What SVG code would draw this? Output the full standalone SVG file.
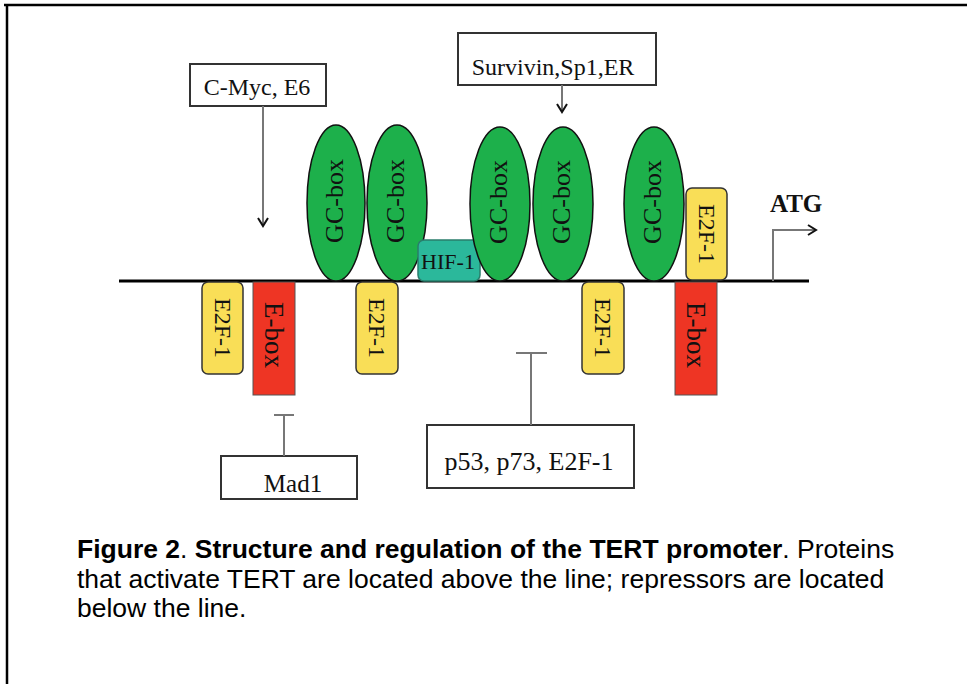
<svg xmlns="http://www.w3.org/2000/svg" width="967" height="684" viewBox="0 0 967 684">
<defs>
<style>
.serif{font-family:"Liberation Serif","Times New Roman",serif;fill:#111}
.gc{fill:#1db04b;stroke:#111;stroke-width:1.5}
.gct{font-size:26px}
.e2t{font-size:24px}
.ebt{font-size:27px}
.yel{fill:#f9de57;stroke:#333;stroke-width:1.5}
.red{fill:#ee3524;stroke:#555;stroke-width:1}
.lbl{fill:#fff;stroke:#333;stroke-width:2}
.conn{stroke:#777;stroke-width:2;fill:none}
.cap{font-family:"Liberation Sans",Arial,sans-serif;font-size:26.5px;fill:#000}
</style>
<marker id="arr" markerWidth="12" markerHeight="12" refX="10" refY="6" orient="auto" markerUnits="userSpaceOnUse">
<path d="M2,1 L10,6 L2,11" fill="none" stroke="#111" stroke-width="2"/>
</marker>
</defs>
<rect width="967" height="684" fill="#fff"/>
<path d="M4,5 H967 M7,5 V684" stroke="#000" stroke-width="2.5" fill="none"/>

<line x1="119" y1="281" x2="809" y2="281" stroke="#000" stroke-width="3"/>

<g id="gc1"><ellipse class="gc" cx="336" cy="203" rx="29" ry="78"/><text class="serif gct" text-anchor="middle" transform="translate(343,201) rotate(-90)">GC-box</text></g>
<g id="gc2"><ellipse class="gc" cx="397" cy="203" rx="30" ry="78"/><text class="serif gct" text-anchor="middle" transform="translate(404,201) rotate(-90)">GC-box</text></g>
<g id="hif1"><rect x="418" y="240" width="62" height="41" rx="6" fill="#2bb89b" stroke="#2a7d6c" stroke-width="1.5"/><text class="serif" font-size="22" text-anchor="middle" x="448" y="269">HIF-1</text></g>
<g id="gc3"><ellipse class="gc" cx="500" cy="204" rx="30" ry="77"/><text class="serif gct" text-anchor="middle" transform="translate(507,202) rotate(-90)">GC-box</text></g>
<g id="gc4"><ellipse class="gc" cx="563" cy="204" rx="30" ry="77"/><text class="serif gct" text-anchor="middle" transform="translate(570,202) rotate(-90)">GC-box</text></g>
<g id="gc5"><ellipse class="gc" cx="654" cy="204" rx="30" ry="77"/><text class="serif gct" text-anchor="middle" transform="translate(661,202) rotate(-90)">GC-box</text></g>
<g id="e2f1-top"><rect class="yel" x="686" y="188" width="41" height="92" rx="6"/><text class="serif e2t" text-anchor="middle" transform="translate(699,234) rotate(90)">E2F-1</text></g>

<g id="e2f1-a"><rect class="yel" x="202" y="282" width="41" height="92" rx="6"/><text class="serif e2t" text-anchor="middle" transform="translate(215,328) rotate(90)">E2F-1</text></g>
<g id="ebox-a"><rect class="red" x="253" y="282" width="42" height="113"/><text class="serif ebt" text-anchor="middle" transform="translate(265,335) rotate(90)">E-box</text></g>
<g id="e2f1-b"><rect class="yel" x="356" y="282" width="42" height="92" rx="6"/><text class="serif e2t" text-anchor="middle" transform="translate(369,328) rotate(90)">E2F-1</text></g>
<g id="e2f1-c"><rect class="yel" x="582" y="282" width="42" height="92" rx="6"/><text class="serif e2t" text-anchor="middle" transform="translate(595,328) rotate(90)">E2F-1</text></g>
<g id="ebox-b"><rect class="red" x="675" y="282" width="42" height="113"/><text class="serif ebt" text-anchor="middle" transform="translate(687,335) rotate(90)">E-box</text></g>

<g id="cmyc"><rect class="lbl" x="190" y="64" width="136" height="42"/><text class="serif" font-size="24" text-anchor="middle" x="257" y="95">C-Myc, E6</text></g>
<g id="survivin"><rect class="lbl" x="458" y="33" width="198" height="52"/><text class="serif" font-size="24" text-anchor="middle" x="553" y="75">Survivin,Sp1,ER</text></g>
<g id="mad1"><rect class="lbl" x="221" y="456" width="136" height="43"/><text class="serif" font-size="25" text-anchor="middle" x="293" y="492">Mad1</text></g>
<g id="p53"><rect class="lbl" x="427" y="425" width="207" height="63"/><text class="serif" font-size="26" text-anchor="middle" x="529" y="470">p53, p73, E2F-1</text></g>
<g id="atg"><text class="serif" font-size="25" font-weight="bold" x="770" y="212">ATG</text></g>

<g id="connectors">
<line class="conn" x1="263" y1="106" x2="263" y2="226" marker-end="url(#arr)"/>
<line class="conn" x1="562" y1="85" x2="562" y2="112" marker-end="url(#arr)"/>
<path class="conn" d="M284,456 V415 M274,415 H294"/>
<path class="conn" d="M531,425 V353 M516,353 H547"/>
<path class="conn" d="M773,281 V230 H816" marker-end="url(#arr)"/>
</g>

<g id="caption">
<text class="cap" x="77" y="558"><tspan font-weight="bold">Figure 2</tspan>. <tspan font-weight="bold">Structure and regulation of the TERT promoter</tspan>. Proteins</text>
<text class="cap" x="77" y="588">that activate TERT are located above the line; repressors are located</text>
<text class="cap" x="77" y="617">below the line.</text>
</g>
</svg>
